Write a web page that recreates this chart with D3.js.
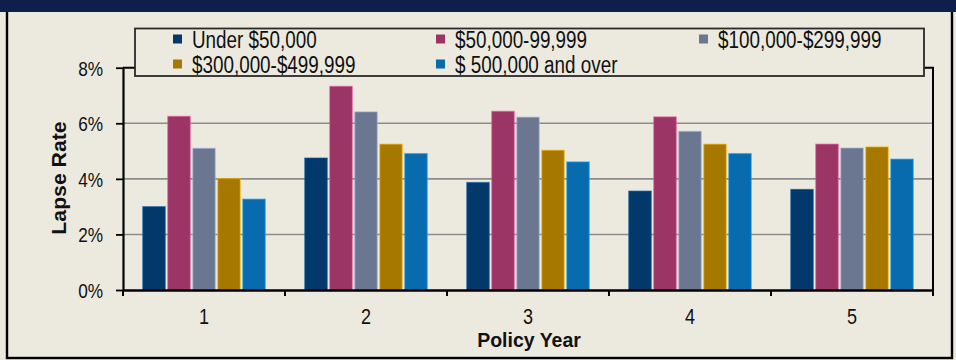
<!DOCTYPE html>
<html>
<head>
<meta charset="utf-8">
<script src="https://cdn.jsdelivr.net/npm/d3@7"></script>
<style>
  html, body { margin: 0; padding: 0; background: #ECEADF; }
  svg { display: block; font-family: "Liberation Sans", Arial, sans-serif; }
</style>
</head>
<body>
<svg id="chart" width="956" height="360"></svg>
<script>
// Policy years on the x axis
const categories = ["1", "2", "3", "4", "5"];

// Face-amount bands (legend order)
const seriesNames = [
  "Under $50,000",
  "$50,000-99,999",
  "$100,000-$299,999",
  "$300,000-$499,999",
  "$ 500,000 and over"
];

// Lapse rates in percent, one value per policy year
const under50k   = [3.00, 4.75, 3.87, 3.56, 3.62];
const k50to99    = [6.25, 7.33, 6.43, 6.23, 5.25];
const k100to299  = [5.10, 6.41, 6.22, 5.71, 5.11];
const k300to499  = [4.01, 5.25, 5.03, 5.25, 5.15];
const k500plus   = [3.27, 4.91, 4.61, 4.91, 4.71];

const yTicks = [0, 2, 4, 6, 8];

const seriesValues = [under50k, k50to99, k100to299, k300to499, k500plus];
const colors = ["#03386A", "#9A3566", "#6B7790", "#A67800", "#076BAD"];

const svg = d3.select("#chart");
const W = 956, H = 360;
const bg = "#ECEADF";

// header band and outer frame
svg.append("rect").attr("x", 0).attr("y", 0).attr("width", W).attr("height", H).attr("fill", bg);
svg.append("rect").attr("x", 7).attr("y", 8).attr("width", 945).attr("height", 350)
  .attr("fill", bg).attr("stroke", "#000").attr("stroke-width", 2.4);
svg.append("rect").attr("x", 0).attr("y", 0).attr("width", W).attr("height", 12).attr("fill", "#0F1F4B");

const plot = { left: 123, right: 933, top: 67.7, bottom: 290 };

const x0 = d3.scaleBand().domain(categories).range([plot.left, plot.right]).padding(0);
const x1 = d3.scaleBand().domain(d3.range(seriesNames.length))
  .range([0, x0.bandwidth()]).paddingInner(0.1).paddingOuter(0.79);
const y = d3.scaleLinear().domain([0, 8]).range([plot.bottom, plot.top]);

// horizontal gridlines
svg.append("g").selectAll("line").data(yTicks.filter(d => d > 0 && d < 8)).join("line")
  .attr("x1", plot.left).attr("x2", plot.right)
  .attr("y1", d => y(d)).attr("y2", d => y(d))
  .attr("stroke", "#8C8C8C").attr("stroke-width", 1.6);

// top and right border of plot area
svg.append("path")
  .attr("d", `M${plot.left},${y(8)}H${plot.right}V${plot.bottom}`)
  .attr("fill", "none").attr("stroke", "#000").attr("stroke-width", 2);

// bars
const groups = svg.append("g").selectAll("g").data(categories).join("g")
  .attr("transform", d => `translate(${x0(d)},0)`);
groups.selectAll("rect")
  .data((d, i) => seriesValues.map((vals, s) => ({ s, v: vals[i] })))
  .join("rect")
  .attr("x", d => x1(d.s))
  .attr("width", x1.bandwidth())
  .attr("y", d => y(d.v))
  .attr("height", d => y(0) - y(d.v))
  .attr("fill", d => colors[d.s])
  .attr("stroke", d => d3.color(colors[d.s]).brighter(1.2).copy({ opacity: 0.55 }))
  .attr("stroke-width", 1.2);

// axes
const tickSX = 0.82;
const yAxis = svg.append("g").attr("transform", `translate(${plot.left},0)`)
  .call(d3.axisLeft(y).tickValues(yTicks).tickFormat(d => d + "%").tickSize(7).tickSizeOuter(0));
yAxis.select(".domain").attr("stroke", "#000").attr("stroke-width", 2.2);
yAxis.selectAll(".tick line").attr("stroke", "#000").attr("stroke-width", 1.8);
yAxis.selectAll(".tick text")
  .attr("font-family", "'Liberation Sans', Arial, sans-serif")
  .attr("font-size", 21).attr("fill", "#111")
  .attr("x", -20 / tickSX).attr("dy", "0.36em")
  .attr("transform", `scale(${tickSX},1)`);

const xAxis = svg.append("g").attr("transform", `translate(0,${plot.bottom})`)
  .call(d3.axisBottom(x0).tickSize(0).tickSizeOuter(0));
xAxis.select(".domain").attr("stroke", "#000").attr("stroke-width", 2.6);
xAxis.selectAll(".tick text")
  .attr("font-family", "'Liberation Sans', Arial, sans-serif")
  .attr("font-size", 22).attr("fill", "#111")
  .attr("y", 34.5).attr("dy", 0)
  .attr("x", 0)
  .attr("transform", `scale(${tickSX},1)`);

// boundary tick marks between policy years
svg.append("g").selectAll("line")
  .data(categories.map(c => x0(c)).concat([plot.right])).join("line")
  .attr("x1", d => d).attr("x2", d => d)
  .attr("y1", plot.bottom).attr("y2", plot.bottom + 6)
  .attr("stroke", "#000").attr("stroke-width", 2);

// axis titles
svg.append("text")
  .attr("transform", `translate(66,178) rotate(-90) scale(1.09,1)`)
  .attr("text-anchor", "middle")
  .attr("font-weight", "bold").attr("font-size", 19.5).attr("fill", "#111")
  .text("Lapse Rate");
svg.append("text")
  .attr("x", 529).attr("y", 347)
  .attr("text-anchor", "middle")
  .attr("font-weight", "bold").attr("font-size", 19.5).attr("fill", "#111")
  .text("Policy Year");

// legend
const legend = svg.append("g");
legend.append("rect").attr("x", 135).attr("y", 28.5).attr("width", 789).attr("height", 47.5)
  .attr("fill", bg).attr("stroke", "#2A2A2A").attr("stroke-width", 1.8);
const legSX = 0.82;
const colX = [173, 436, 699];
const rowY = [39, 64];
const items = legend.selectAll("g.item").data(seriesNames).join("g")
  .attr("class", "item")
  .attr("transform", (d, i) => `translate(${colX[i % 3]},${rowY[Math.floor(i / 3)]})`);
items.append("rect").attr("x", 0).attr("y", -4.5).attr("width", 9).attr("height", 9)
  .attr("fill", (d, i) => colors[i]);
items.append("text")
  .attr("transform", `scale(${legSX},1)`)
  .attr("x", 19 / legSX).attr("y", 8.5)
  .attr("font-size", 23).attr("fill", "#111")
  .text(d => d);
</script>
</body>
</html>
